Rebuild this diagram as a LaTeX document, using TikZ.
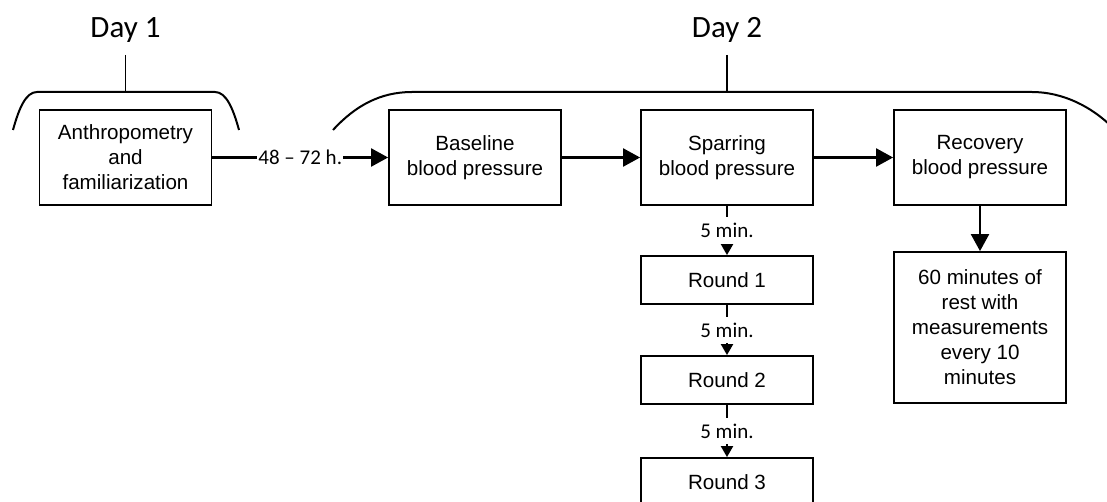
\documentclass[tikz,border=0pt]{standalone}
\usepackage{fontspec}
\setmainfont{Liberation Sans}
\newfontfamily\calfont{Carlito}
\usetikzlibrary{arrows.meta}
\begin{document}
\begin{tikzpicture}[x=1pt,y=-1pt,
  box/.style={draw,line width=1.8pt,minimum width=172pt,minimum height=95pt,align=center,font=\fontsize{20.6}{25}\selectfont,inner sep=0pt},
  rbox/.style={box,minimum height=48pt},
  big/.style={line width=2.2pt,-{Triangle[length=17pt,width=18pt]}},
  small/.style={line width=2pt,-{Triangle[length=11pt,width=12pt]}},
  lab/.style={fill=white,font=\calfont\fontsize{21}{25}\selectfont,inner xsep=1pt,inner ysep=6pt},
  day/.style={font=\calfont\fontsize{31}{36}\selectfont,inner sep=0pt},
  brace/.style={line width=2pt},
  stem/.style={line width=1.6pt}]
\useasboundingbox (0,0) rectangle (1107,502);
\clip (0,0) rectangle (1107,502);
\fill[white] (0,0) rectangle (1107,502);

% boxes
\node[box] (a) at (125.5,157.5) {Anthropometry\\and\\familiarization};
\node[box] (b) at (475,157.5) {Baseline\\blood pressure};
\node[box] (c) at (727,157.5) {Sparring\\blood pressure};
\node[box] (d) at (980,157.5) {Recovery\\blood pressure};
\node[box,minimum height=151pt] (e) at (980,327.5) {60 minutes of\\rest with\\measurements\\every 10\\minutes};
\node[rbox] (r1) at (727,280) {Round 1};
\node[rbox] (r2) at (727,380) {Round 2};
\node[rbox] (r3) at (727,482) {Round 3};

% connectors
\draw[big] (a) -- node[lab]{48 – 72 h.} (b);
\draw[big] (b) -- (c);
\draw[big] (c) -- (d);
\draw[big] (d) -- (e);
\draw[small] (c) -- node[lab]{5 min.} (r1);
\draw[small] (r1) -- node[lab]{5 min.} (r2);
\draw[small] (r2) -- node[lab]{5 min.} (r3);

% day labels
\node[day,anchor=base] (day1) at (125.5,38) {Day 1};
\node[day,anchor=base] (day2) at (727,38) {Day 2};
\coordinate (d1t) at (125.5,55);
\coordinate (d1b) at (125.5,92);
\coordinate (d2t) at (727,55);
\coordinate (d2b) at (727,92);
\draw[stem] (d1t) -- (d1b);
\draw[stem] (d2t) -- (d2b);

% brackets
\draw[brace] (13,130) .. controls (19,108) and (26,92) .. (37,92)
  -- (215,92) .. controls (226,92) and (233,108) .. (239,130);
\draw[brace] (333,130) .. controls (355,106) and (380,92) .. (412,92)
  -- (1032,92) .. controls (1062,92) and (1092,106) .. (1115,130);
\end{tikzpicture}
\end{document}
